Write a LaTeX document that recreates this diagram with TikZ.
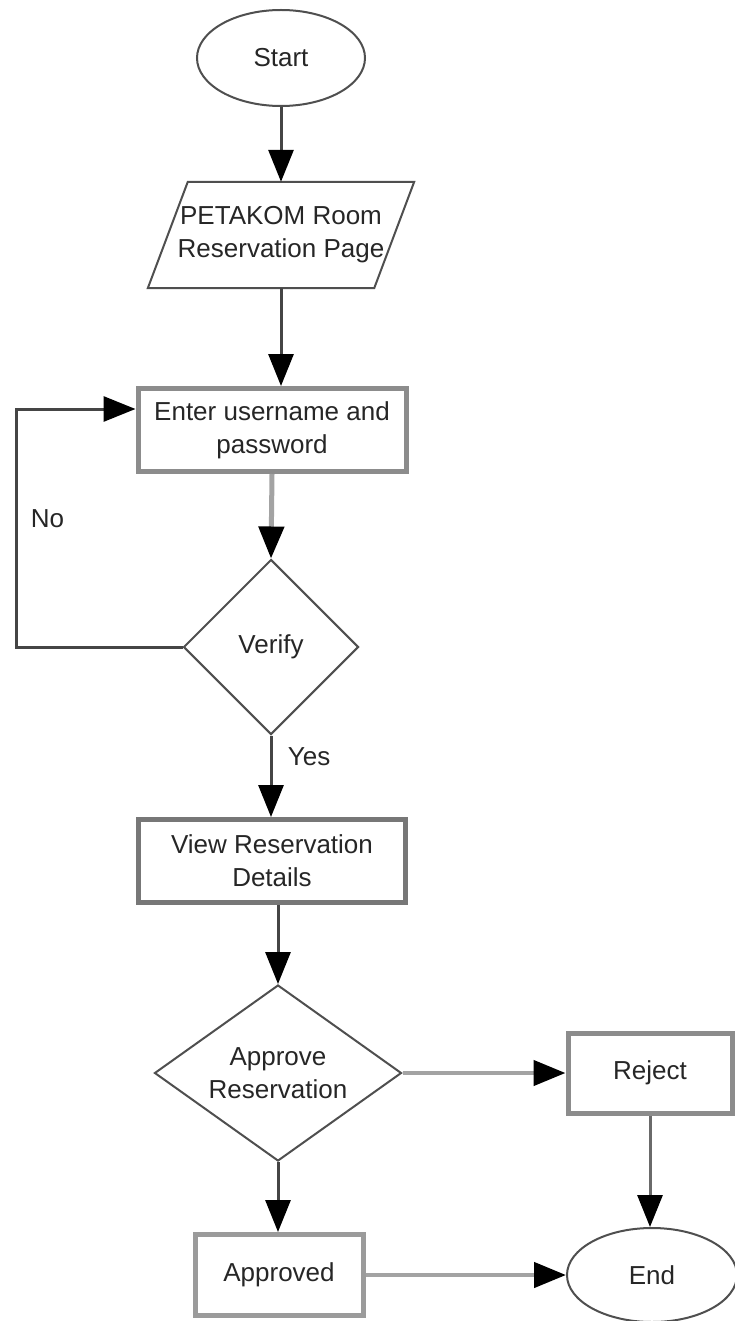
\documentclass[tikz,border=0pt]{standalone}
\usepackage{fontspec}
\setmainfont{Liberation Sans}
\usetikzlibrary{shapes.geometric,arrows.meta}
\definecolor{ink}{HTML}{262626}
\definecolor{outline}{HTML}{4F4F4F}
\definecolor{boxgray}{HTML}{8C8C8C}
\definecolor{linedark}{HTML}{454545}
\definecolor{linegray}{HTML}{A3A3A3}
\begin{document}
\begin{tikzpicture}[x=1pt,y=-1pt,
  every node/.style={font=\fontsize{26}{33}\selectfont, text=ink, align=center},
  terminal/.style={ellipse, draw=outline, line width=2pt, minimum width=168pt, minimum height=96pt, inner sep=0pt},
  decision/.style={diamond, draw=outline, line width=2pt, inner sep=0pt},
  process/.style={rectangle, draw=boxgray, line width=5pt, inner sep=0pt, minimum height=83pt},
  iobox/.style={rectangle, inner sep=0pt, minimum width=226pt, minimum height=106pt},
  flow/.style={draw=linedark, line width=3pt, -{Triangle[length=32pt,width=25pt,color=black]}},
  flowgray/.style={draw=linegray, line width=4.5pt, -{Triangle[length=32pt,width=25pt,color=black]}},
  edgelabel/.style={text=ink}
]
\useasboundingbox (0,0) rectangle (735,1321);

% nodes
\node[terminal] (start) at (281,58) {Start};
\node[iobox] (page) at (281,235) {PETAKOM Room\\Reservation Page};
\draw[draw=outline, line width=2pt]
  ([xshift=-20pt]page.south west) -- ([xshift=20pt]page.north west)
  -- ([xshift=20pt]page.north east) -- ([xshift=-20pt]page.south east) -- cycle;
\node[process, minimum width=268pt] (enter) at (272,430) {Enter username and\\password};
\node[decision, minimum width=175pt, minimum height=175pt] (verify) at (271,647) {Verify};
\node[process, draw=boxgray!85!black, minimum width=267pt] (view) at (272,861) {View Reservation\\Details};
\node[decision, aspect=1.4, minimum width=247pt, minimum height=176pt] (approve) at (278,1073) {Approve\\Reservation};
\node[process, minimum width=164pt, minimum height=80pt] (reject) at (650,1073) {Reject};
\node[process, draw=linegray!95!black, minimum width=168pt, minimum height=81pt] (approved) at (279,1275) {Approved};
\node[terminal, minimum width=170pt, minimum height=94pt] (end) at (652,1275) {End};

\coordinate (loopcorner) at (16,647);

% connectors
\draw[flow] (start.south) -- (start.south |- page.north);
\draw[flow] (page.south) -- (page.south |- enter.north);
\draw[flowgray, line width=5pt] (enter.south) -- (verify.north);
\draw[flow] (verify.south) -- node[edgelabel, right=12pt, pos=0.26] {Yes} (verify.south |- view.north);
\draw[flow] (verify.west) -- (loopcorner) |- node[edgelabel, pos=0.27, right=10pt] {No} ([yshift=21pt]enter.west);
\draw[flow] (approve.north |- view.south) -- (approve.north);
\draw[flowgray] (approve.east) -- (reject.west);
\draw[flow] (approve.south) -- (approve.south |- approved.north);
\draw[flow, draw=linedark!80] (reject.south) -- (reject.south |- end.north);
\draw[flowgray] (approved.east) -- (end.west);
\end{tikzpicture}
\end{document}
